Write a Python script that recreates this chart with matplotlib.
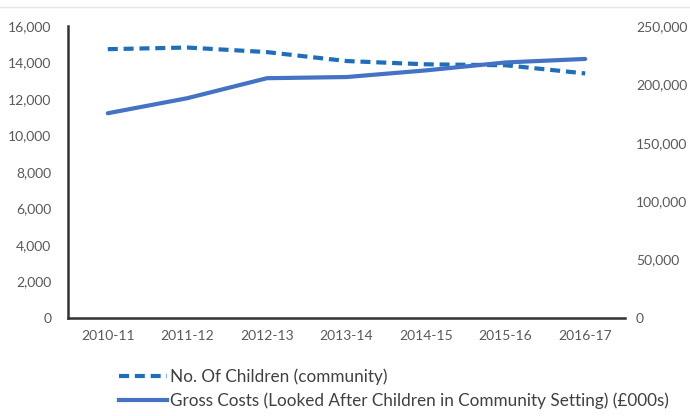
import matplotlib
matplotlib.use("Agg")
import matplotlib.pyplot as plt
from matplotlib.ticker import FuncFormatter, MultipleLocator
from matplotlib.lines import Line2D

plt.rcParams['font.family'] = ['Lato', 'DejaVu Sans']

years = ["2010-11", "2011-12", "2012-13", "2013-14", "2014-15", "2015-16", "2016-17"]
children = [14730, 14820, 14570, 14080, 13900, 13850, 13400]
gross_costs = [175300, 188200, 205300, 206300, 212000, 218800, 221800]

label_children = "No. Of Children (community)"
label_costs = "Gross Costs (Looked After Children in Community Setting) (£000s)"

dash_color = "#1F6EBB"
solid_color = "#4472C4"
text_color = "#595959"
dash_style = (0, (2.4, 1.4))

fig = plt.figure(figsize=(6.9, 4.16), dpi=100)
ax = fig.add_axes([68 / 690, 1 - 318 / 416, (625 - 68) / 690, (318 - 26) / 416])
ax2 = ax.twinx()

x = range(len(years))
ax.plot(x, children, color=dash_color, lw=3.0, ls=dash_style, solid_capstyle='butt')
ax2.plot(x, gross_costs, color=solid_color, lw=3.0, solid_capstyle='round')

ax.set_xlim(-0.5, len(years) - 0.5)
ax.set_ylim(0, 16000)
ax2.set_ylim(0, 250000)
ax.yaxis.set_major_locator(MultipleLocator(2000))
ax2.yaxis.set_major_locator(MultipleLocator(50000))
fmt = FuncFormatter(lambda v, p: f"{int(v):,}")
ax.yaxis.set_major_formatter(fmt)
ax2.yaxis.set_major_formatter(fmt)
ax.set_xticks(list(x))
ax.set_xticklabels(years)

for a in (ax, ax2):
    for s in ("top", "right"):
        a.spines[s].set_visible(False)
    a.tick_params(length=0, labelsize=10, colors=text_color)
ax2.spines["left"].set_visible(False)
ax2.spines["bottom"].set_visible(False)
ax.spines["left"].set_color("#333333")
ax.spines["bottom"].set_color("#333333")
ax.spines["left"].set_linewidth(1.8)
ax.spines["bottom"].set_linewidth(1.8)
ax.tick_params(axis="y", pad=12)
ax.tick_params(axis="x", pad=9)
ax2.tick_params(axis="y", pad=8)

handles = [
    Line2D([], [], color=dash_color, lw=3.0, ls=dash_style),
    Line2D([], [], color=solid_color, lw=3.0),
]
fig.legend(handles, [label_children, label_costs], loc="upper left",
           bbox_to_anchor=(104 / 690, 1 - 353 / 416), frameon=False,
           fontsize=12.3, handlelength=2.8, handletextpad=0.15, labelspacing=0.45,
           labelcolor="#404040")

fig.add_artist(Line2D([0, 1], [1 - 7 / 416, 1 - 7 / 416], color="#E6E6E6", lw=1.0,
                      transform=fig.transFigure))

fig.savefig("out.png", dpi=100)
